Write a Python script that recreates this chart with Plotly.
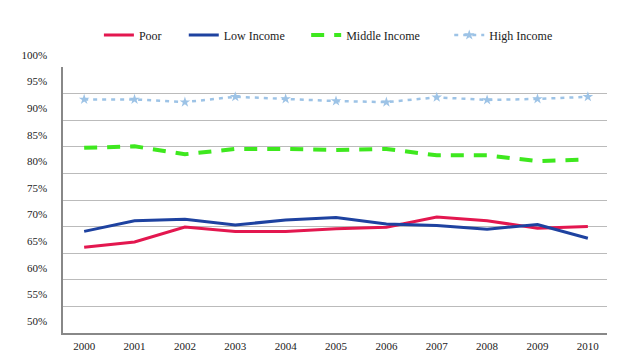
import plotly.graph_objects as go

years = [2000, 2001, 2002, 2003, 2004, 2005, 2006, 2007, 2008, 2009, 2010]
poor = [66.1, 67.1, 69.9, 69.1, 69.1, 69.6, 69.9, 71.8, 71.1, 69.7, 70.0]
low_income = [69.1, 71.1, 71.4, 70.3, 71.25, 71.7, 70.5, 70.2, 69.5, 70.4, 67.8]
middle_income = [84.8, 85.1, 83.6, 84.6, 84.6, 84.4, 84.6, 83.4, 83.4, 82.3, 82.6]
high_income = [93.9, 93.9, 93.4, 94.4, 94.0, 93.6, 93.4, 94.3, 93.8, 94.0, 94.4]
y_ticks = [50, 55, 60, 65, 70, 75, 80, 85, 90, 95, 100]
y_tick_labels = [f"{v}%" for v in y_ticks]

serif = "Liberation Serif"

fig = go.Figure()
fig.add_trace(go.Scatter(x=years, y=poor, name="Poor", mode="lines", legend="legend",
                         line=dict(color="#E3174F", width=3)))
fig.add_trace(go.Scatter(x=years, y=low_income, name="Low Income", mode="lines", legend="legend2",
                         line=dict(color="#1E42A0", width=3)))
fig.add_trace(go.Scatter(x=years, y=middle_income, name="Middle Income", mode="lines", legend="legend3",
                         line=dict(color="#3EE81E", width=4, dash="13px,10px")))
fig.add_trace(go.Scatter(x=years, y=high_income, name="High Income", mode="lines+markers", legend="legend4",
                         line=dict(color="#9DC3E6", width=2.5, dash="4px,5px"),
                         marker=dict(symbol="star", size=8, color="#9DC3E6")))

leg_common = dict(orientation="h", xanchor="left", y=1.12, yanchor="middle",
                  font=dict(family=serif, size=12, color="#222"), bgcolor="rgba(0,0,0,0)")
fig.update_layout(
    width=625, height=352,
    margin=dict(l=63, r=18, t=67, b=19),
    paper_bgcolor="white", plot_bgcolor="white",
    font=dict(family=serif, size=11, color="#222"),
    legend=dict(x=0.066, **leg_common),
    legend2=dict(x=0.222, **leg_common),
    legend3=dict(x=0.447, **leg_common),
    legend4=dict(x=0.71, **leg_common),
    showlegend=True,
)
fig.update_xaxes(range=[1999.58, 2010.38], tickmode="array", tickvals=years,
                 ticktext=[str(y) for y in years], showgrid=False,
                 showline=True, linecolor="#888", linewidth=1.5, ticks="",
                 zeroline=False, automargin=False, ticklabelstandoff=2,
                 tickfont=dict(family=serif, size=11))
fig.update_yaxes(range=[50, 100], tickmode="array", tickvals=y_ticks, ticktext=y_tick_labels,
                 showgrid=True, gridcolor="#BBBBBB", gridwidth=1,
                 showline=True, linecolor="#888", linewidth=1.5, ticks="",
                 zeroline=False, automargin=False, ticklabelshift=-12, ticklabelstandoff=12,
                 tickfont=dict(family=serif, size=11))

fig.write_html("out.html")
